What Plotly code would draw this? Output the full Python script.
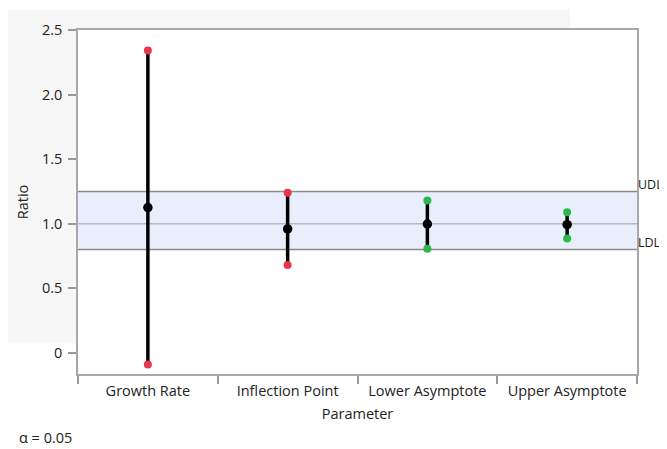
import plotly.graph_objects as go

params = ["Growth Rate", "Inflection Point", "Lower Asymptote", "Upper Asymptote"]
estimate = [1.125, 0.96, 0.998, 0.993]
lower = [-0.092, 0.68, 0.806, 0.886]
upper = [2.343, 1.24, 1.18, 1.09]
ldl = 0.8
udl = 1.25
target = 1.0
alpha_text = "α = 0.05"

RED = "#e8364f"
GREEN = "#2eb84a"
FONT = "Open Sans"
FS = 14.5

fig = go.Figure()

# vertical interval lines
lx, ly = [], []
for p, lo, hi in zip(params, lower, upper):
    lx += [p, p, None]
    ly += [lo, hi, None]
fig.add_trace(go.Scatter(x=lx, y=ly, mode="lines",
                         line=dict(color="black", width=3.5),
                         hoverinfo="skip", showlegend=False))

# endpoint markers
ex, ey, ec = [], [], []
for p, lo, hi in zip(params, lower, upper):
    inside = lo >= ldl and hi <= udl
    col = GREEN if inside else RED
    ex += [p, p]
    ey += [lo, hi]
    ec += [col, col]
fig.add_trace(go.Scatter(x=ex, y=ey, mode="markers",
                         marker=dict(color=ec, size=8),
                         showlegend=False))

# estimates
fig.add_trace(go.Scatter(x=params, y=estimate, mode="markers",
                         marker=dict(color="black", size=9.5),
                         showlegend=False))

shapes = [
    # gray background panel (left strip and top strip)
    dict(type="rect", xref="paper", yref="paper", x0=-0.126, x1=0.0, y0=0.0893, y1=1.06,
         fillcolor="#f7f7f7", line=dict(width=0), layer="below"),
    dict(type="rect", xref="paper", yref="paper", x0=0.0, x1=0.88, y0=1.0, y1=1.06,
         fillcolor="#f7f7f7", line=dict(width=0), layer="below"),
    # equivalence band
    dict(type="rect", xref="paper", yref="y", x0=0, x1=1, y0=ldl, y1=udl,
         fillcolor="#e8eefc", line=dict(width=0), layer="below"),
    dict(type="line", xref="paper", yref="y", x0=0, x1=1, y0=udl, y1=udl,
         line=dict(color="#8a8a8a", width=1.5), layer="below"),
    dict(type="line", xref="paper", yref="y", x0=0, x1=1, y0=ldl, y1=ldl,
         line=dict(color="#8a8a8a", width=1.5), layer="below"),
    dict(type="line", xref="paper", yref="y", x0=0, x1=1, y0=target, y1=target,
         line=dict(color="#b4b8c4", width=1.5), layer="below"),
]

LBL = 12.5
annotations = [
    dict(text="UDL", xref="paper", yref="y", x=1.0, y=udl, xanchor="left", yanchor="middle",
         yshift=7, xshift=0, borderpad=0, showarrow=False,
         font=dict(family=FONT, size=LBL, color="#222")),
    dict(text="LDL", xref="paper", yref="y", x=1.0, y=ldl, xanchor="left", yanchor="middle",
         yshift=7, xshift=0, borderpad=0, showarrow=False,
         font=dict(family=FONT, size=LBL, color="#222")),
    dict(text=alpha_text, xref="paper", yref="paper", x=-0.11, y=-0.184,
         xanchor="left", yanchor="middle", showarrow=False,
         font=dict(family=FONT, size=FS, color="#222")),
]

fig.update_layout(
    width=659, height=441,
    margin=dict(l=70, r=30, t=19, b=75),
    paper_bgcolor="white", plot_bgcolor="rgba(0,0,0,0)",
    font=dict(family=FONT, size=FS, color="#222"),
    shapes=shapes, annotations=annotations,
    showlegend=False,
    xaxis=dict(type="category", categoryorder="array", categoryarray=params,
               range=[-0.5, 3.5], tickson="boundaries", ticks="outside",
               ticklen=8, tickcolor="#999", tickwidth=1.5, ticklabelstandoff=3,
               showline=True, mirror=True, linecolor="#a8a8a8", linewidth=1.5,
               showgrid=False, zeroline=False,
               title=dict(text="Parameter", standoff=10, font=dict(size=FS)),
               tickfont=dict(size=FS)),
    yaxis=dict(range=[-0.165, 2.502], tickvals=[0, 0.5, 1.0, 1.5, 2.0, 2.5],
               ticktext=["0", "0.5", "1.0", "1.5", "2.0", "2.5"],
               ticks="outside", ticklen=8, tickcolor="#999", tickwidth=1.5,
               ticklabelstandoff=3,
               showline=True, mirror=True, linecolor="#a8a8a8", linewidth=1.5,
               showgrid=False, zeroline=False,
               title=dict(text="Ratio", standoff=10, font=dict(size=FS)),
               tickfont=dict(size=FS)),
)

fig.write_html("out.html")
